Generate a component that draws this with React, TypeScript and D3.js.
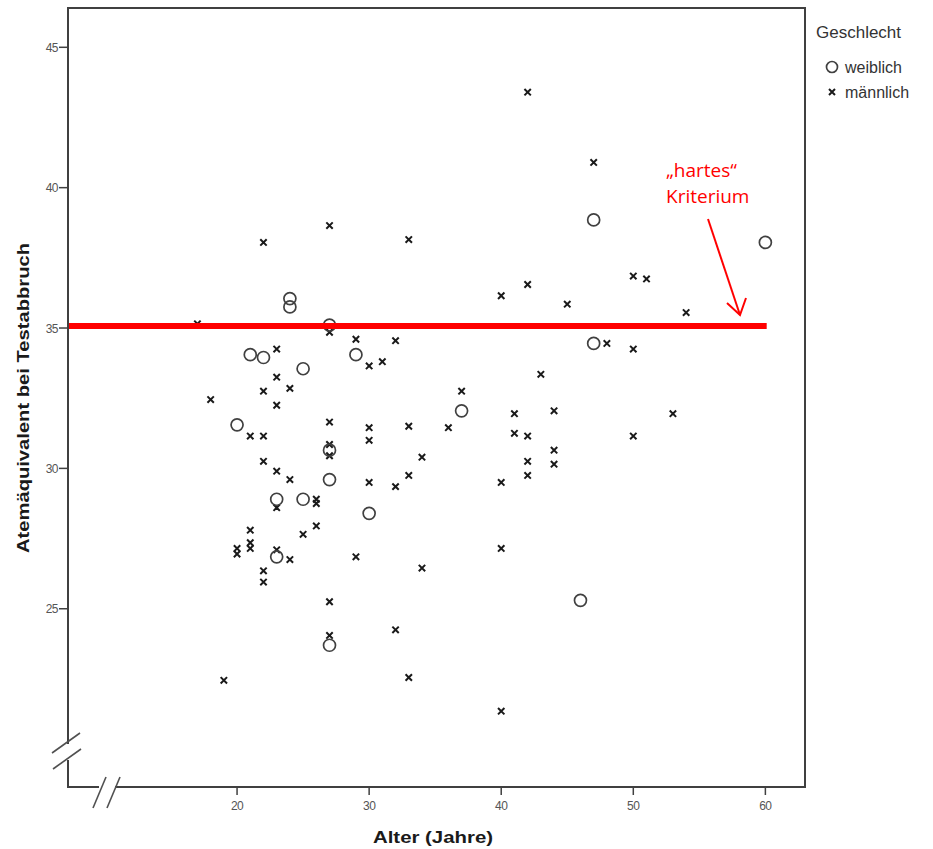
import React from "react";
import * as d3 from "d3";

const womenAge = [24, 24, 27, 21, 22, 25, 29, 20, 27, 27, 23, 25, 30, 23, 27, 37, 47, 47, 60, 46];
const womenValue = [36.05, 35.75, 35.1, 34.05, 33.95, 33.55, 34.05, 31.55, 30.65, 29.6, 28.9, 28.9, 28.4, 26.85, 23.7, 32.05, 38.85, 34.45, 38.05, 25.3];

const menAge = [42, 47, 27, 22, 33, 40, 42, 45, 50, 51, 54, 17, 27, 23, 29, 30, 31, 32, 48, 50, 43, 23, 24, 22, 18, 23, 37, 44, 53, 41, 27, 30, 33, 36, 21, 22, 30, 41, 42, 50, 44, 27, 27, 34, 22, 42, 44, 23, 24, 30, 33, 42, 32, 40, 23, 26, 26, 26, 21, 25, 21, 21, 20, 20, 23, 24, 29, 22, 22, 34, 40, 27, 27, 32, 19, 33, 40];
const menValue = [43.4, 40.9, 38.65, 38.05, 38.15, 36.15, 36.55, 35.85, 36.85, 36.75, 35.55, 35.15, 34.85, 34.25, 34.6, 33.65, 33.8, 34.55, 34.45, 34.25, 33.35, 33.25, 32.85, 32.75, 32.45, 32.25, 32.75, 32.05, 31.95, 31.95, 31.65, 31.45, 31.5, 31.45, 31.15, 31.15, 31.0, 31.25, 31.15, 31.15, 30.65, 30.85, 30.45, 30.4, 30.25, 30.25, 30.15, 29.9, 29.6, 29.5, 29.75, 29.75, 29.35, 29.5, 28.6, 28.9, 28.75, 27.95, 27.8, 27.65, 27.35, 27.15, 27.15, 26.95, 27.1, 26.75, 26.85, 26.35, 25.95, 26.45, 27.15, 25.25, 24.05, 24.25, 22.45, 22.55, 21.35];

const xTicks = [20, 30, 40, 50, 60];
const yTicks = [25, 30, 35, 40, 45];
const criterion = 35;
const legendLabels = ["weiblich", "männlich"];

const W = 933;
const H = 849;
const L = 68, R = 805, T = 8, B = 787;

export default function App() {
  const x = d3.scaleLinear().domain([7.2, 63]).range([L, R]);
  const y = d3.scaleLinear().domain([18.65, 46.4]).range([B, T]);
  const sans = "'Liberation Sans', Arial, sans-serif";
  const frame = "#404040";
  const cross = (cx: number, cy: number, s = 3.2) =>
    `M${cx - s},${cy - s}L${cx + s},${cy + s}M${cx - s},${cy + s}L${cx + s},${cy - s}`;

  const yBreak = 752; // vertical break center
  const xBreak = 107; // horizontal break center

  return (
    <svg width={W} height={H} style={{ position: "absolute", left: 0, top: 0, background: "#fff" }}>
      <rect x={0} y={0} width={W} height={H} fill="#fff" />
      {/* frame: top, right, and axes with breaks */}
      <path
        d={`M${L},${yBreak - 8}L${L},${T}L${R},${T}L${R},${B}L${xBreak + 8},${B}`}
        fill="none"
        stroke={frame}
        strokeWidth={2}
      />
      <path d={`M${L},${yBreak + 8}L${L},${B}L${xBreak - 8},${B}`} fill="none" stroke={frame} strokeWidth={2} />
      {/* break marks */}
      <g stroke="#505050" strokeWidth={1.6}>
        <line x1={52} y1={753} x2={80} y2={733} />
        <line x1={53} y1={769} x2={81} y2={749} />
        <line x1={93} y1={808} x2={106} y2={777} />
        <line x1={107} y1={808} x2={120} y2={777} />
      </g>
      {/* y ticks */}
      {yTicks.map((t) => (
        <g key={"y" + t}>
          <line x1={L - 9} x2={L} y1={y(t)} y2={y(t)} stroke={frame} strokeWidth={1.5} />
          <text x={L - 10} y={y(t) + 4.5} textAnchor="end" fontSize={12} fill="#555" fontFamily={sans} letterSpacing={-0.5}>
            {t}
          </text>
        </g>
      ))}
      {/* x ticks */}
      {xTicks.map((t) => (
        <g key={"x" + t}>
          <line x1={x(t)} x2={x(t)} y1={B} y2={B + 8} stroke={frame} strokeWidth={1.5} />
          <text x={x(t)} y={B + 23} textAnchor="middle" fontSize={12} fill="#555" fontFamily={sans} letterSpacing={-0.5}>
            {t}
          </text>
        </g>
      ))}
      {/* axis titles */}
      <text
        x={433}
        y={843}
        textAnchor="middle"
        fontSize={16}
        fontWeight="bold"
        fill="#1a1a1a"
        fontFamily={sans}
        textLength={120}
        lengthAdjust="spacingAndGlyphs"
      >
        Alter (Jahre)
      </text>
      <text
        transform={`translate(29, 398) rotate(-90)`}
        textAnchor="middle"
        fontSize={16.5}
        fontWeight="bold"
        fill="#1a1a1a"
        fontFamily={sans}
        textLength={310}
        lengthAdjust="spacingAndGlyphs"
      >
        Atemäquivalent bei Testabbruch
      </text>
      {/* points: men */}
      <g stroke="#1a1a1a" strokeWidth={2} fill="none">
        {menAge.map((a, i) => (
          <path key={"m" + i} d={cross(x(a), y(menValue[i]))} />
        ))}
      </g>
      {/* points: women */}
      <g stroke="#404040" strokeWidth={1.7} fill="none">
        {womenAge.map((a, i) => (
          <circle key={"w" + i} cx={x(a)} cy={y(womenValue[i])} r={6} />
        ))}
      </g>
      {/* red criterion line (drawn over the points) */}
      <line x1={L + 1} x2={x(60.1)} y1={y(criterion) - 2} y2={y(criterion) - 2} stroke="#ff0000" strokeWidth={6} />
      {/* annotation */}
      <text x={666} y={177} fontSize={19} fill="#ff0000" fontFamily="'Open Sans', 'Noto Sans', sans-serif">
        „hartes“
      </text>
      <text x={666} y={203} fontSize={19} fill="#ff0000" fontFamily="'Open Sans', 'Noto Sans', sans-serif">
        Kriterium
      </text>
      <g stroke="#ff0000" strokeWidth={2} fill="none">
        <line x1={708} y1={219} x2={740} y2={315} />
        <path d="M727,303L740,315L746,298" />
      </g>
      {/* legend */}
      <text x={816} y={38} fontSize={17} fill="#333" fontFamily={sans}>
        Geschlecht
      </text>
      <circle cx={832} cy={67} r={5.5} stroke="#404040" strokeWidth={1.7} fill="none" />
      <text x={845} y={73} fontSize={16} fill="#333" fontFamily={sans}>
        {legendLabels[0]}
      </text>
      <path d={cross(832, 92, 3)} stroke="#1a1a1a" strokeWidth={2} />
      <text x={845} y={98} fontSize={16} fill="#333" fontFamily={sans}>
        {legendLabels[1]}
      </text>
    </svg>
  );
}
